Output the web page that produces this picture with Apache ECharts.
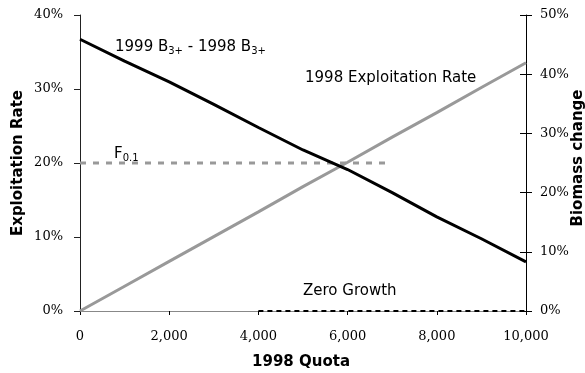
<!DOCTYPE html>
<html>
<head>
<meta charset="utf-8">
<script src="https://cdn.jsdelivr.net/npm/echarts@6/dist/echarts.min.js"></script>
<style>
  html, body { margin: 0; padding: 0; background: #ffffff; }
  #chart { width: 585px; height: 373px; }
</style>
</head>
<body>
<div id="chart"></div>
<script>
// 1998 quota scenarios (tonnes)
const quota = [0, 1000, 2000, 3000, 4000, 5000, 6000, 7000, 8000, 9000, 10000];
// 1998 exploitation rate, % (left axis)
const exploitationRate = [0, 3.35, 6.7, 10.05, 13.4, 16.8, 20.1, 23.5, 26.8, 30.2, 33.55];
// 1999 B3+ - 1998 B3+ biomass change, % (right axis)
const biomassChange = [45.9, 42.2, 38.7, 34.9, 31.0, 27.2, 23.9, 20.0, 15.9, 12.2, 8.3];
// F0.1 reference level (left axis)
const f01Quota = [0, 6900];
const f01Rate = [20, 20];
// Zero growth reference (right axis)
const zeroGrowthQuota = [4000, 10000];
const zeroGrowthValue = [0, 0];

const pairs = (xs, ys) => xs.map((x, i) => [x, ys[i]]);

const SANS = 'DejaVu Sans';
const SERIF = 'DejaVu Serif';
const tickFont = { fontFamily: SERIF, fontSize: 13, color: '#000' };

const GRID = { left: 80, right: 59, top: 15, bottom: 62 };
const PLOT_W = 585 - GRID.left - GRID.right;

const chart = echarts.init(document.getElementById('chart'), null, { renderer: 'canvas' });

chart.setOption({
  animation: false,
  backgroundColor: '#ffffff',
  grid: Object.assign({ containLabel: false }, GRID),
  xAxis: [
    {
      type: 'value', position: 'bottom', min: 0, max: 10000, interval: 2000,
      axisLine: { show: true, lineStyle: { color: '#000', width: 1 } },
      axisTick: { show: true, inside: false, length: 4, lineStyle: { color: '#000' } },
      axisLabel: Object.assign({ margin: 19, formatter: v => v.toLocaleString('en-US') }, tickFont),
      splitLine: { show: false }
    },
    {
      type: 'value', position: 'top', min: 0, max: 10000, interval: 2000,
      axisLine: { show: true, lineStyle: { color: '#888', width: 1 } },
      axisTick: { show: false }, axisLabel: { show: false }, splitLine: { show: false }
    }
  ],
  yAxis: [
    {
      type: 'value', position: 'left', min: 0, max: 40, interval: 10,
      axisLine: { show: true, onZero: false, lineStyle: { color: '#222', width: 1 } },
      axisTick: { show: true, inside: false, length: 6, lineStyle: { color: '#222' } },
      axisLabel: Object.assign({ margin: 17, formatter: '{value}%' }, tickFont),
      splitLine: { show: false }
    },
    {
      type: 'value', position: 'right', min: 0, max: 50, interval: 10,
      axisLine: { show: true, onZero: false, lineStyle: { color: '#000', width: 1 } },
      axisTick: { show: true, inside: false, length: 6, lineStyle: { color: '#000' } },
      axisLabel: Object.assign({ margin: 14, formatter: '{value}%' }, tickFont),
      splitLine: { show: false }
    },
    {
      // inner half of the crossing ticks on the right axis:
      // a left-side axis shifted across the plot onto the right edge
      type: 'value', position: 'left', offset: -PLOT_W, min: 0, max: 50, interval: 10,
      axisLine: { show: false, onZero: false },
      axisTick: { show: true, inside: false, length: 6, lineStyle: { color: '#000' } },
      axisLabel: { show: false }, splitLine: { show: false }
    }
  ],
  series: [
    {
      name: 'F0.1', type: 'line', xAxisIndex: 0, yAxisIndex: 0,
      data: pairs(f01Quota, f01Rate), showSymbol: false, symbol: 'none',
      lineStyle: { color: '#999', width: 3, type: [6, 7] }, z: 2
    },
    {
      name: 'Zero Growth', type: 'line', xAxisIndex: 0, yAxisIndex: 1,
      data: pairs(zeroGrowthQuota, zeroGrowthValue), showSymbol: false, symbol: 'none',
      lineStyle: { color: '#000', width: 2, type: [5, 4] }, z: 3, clip: false
    },
    {
      name: '1998 Exploitation Rate', type: 'line', xAxisIndex: 0, yAxisIndex: 0,
      data: pairs(quota, exploitationRate), showSymbol: false, symbol: 'none',
      lineStyle: { color: '#999', width: 3 }, z: 4
    },
    {
      name: '1999 B3+ - 1998 B3+', type: 'line', xAxisIndex: 0, yAxisIndex: 1,
      data: pairs(quota, biomassChange), showSymbol: false, symbol: 'none',
      lineStyle: { color: '#000', width: 3 }, z: 5
    }
  ],
  graphic: [
    {
      type: 'text', left: 115, top: 40, z: 10,
      style: {
        text: '{m|1999 B}{s|3+}{m| - 1998 B}{s|3+}',
        rich: {
          m: { fontFamily: SANS, fontSize: 15, lineHeight: 18, fill: '#000' },
          s: { fontFamily: SANS, fontSize: 10, lineHeight: 10, verticalAlign: 'bottom', fill: '#000' }
        }
      }
    },
    {
      type: 'text', left: 305, top: 71, z: 10,
      style: { text: '1998 Exploitation Rate', fontFamily: SANS, fontSize: 15, fill: '#000' }
    },
    {
      type: 'text', left: 114, top: 147, z: 10,
      style: {
        text: '{m|F}{s|0.1}',
        rich: {
          m: { fontFamily: SANS, fontSize: 15, lineHeight: 18, fill: '#000' },
          s: { fontFamily: SANS, fontSize: 10, lineHeight: 10, verticalAlign: 'bottom', fill: '#000' }
        }
      }
    },
    {
      type: 'text', left: 303, top: 284, z: 10,
      style: { text: 'Zero Growth', fontFamily: SANS, fontSize: 15, fill: '#000' }
    },
    {
      type: 'text', x: 301, y: 362, z: 10,
      style: { text: '1998 Quota', fontFamily: SANS, fontSize: 15, fontWeight: 'bold', fill: '#000', align: 'center', verticalAlign: 'middle' }
    },
    {
      type: 'text', x: 18, y: 163, rotation: Math.PI / 2, z: 10,
      style: { text: 'Exploitation Rate', fontFamily: SANS, fontSize: 15, fontWeight: 'bold', fill: '#000', align: 'center', verticalAlign: 'middle' }
    },
    {
      type: 'text', x: 578, y: 158, rotation: Math.PI / 2, z: 10,
      style: { text: 'Biomass change', fontFamily: SANS, fontSize: 15, fontWeight: 'bold', fill: '#000', align: 'center', verticalAlign: 'middle' }
    }
  ]
});
</script>
</body>
</html>
